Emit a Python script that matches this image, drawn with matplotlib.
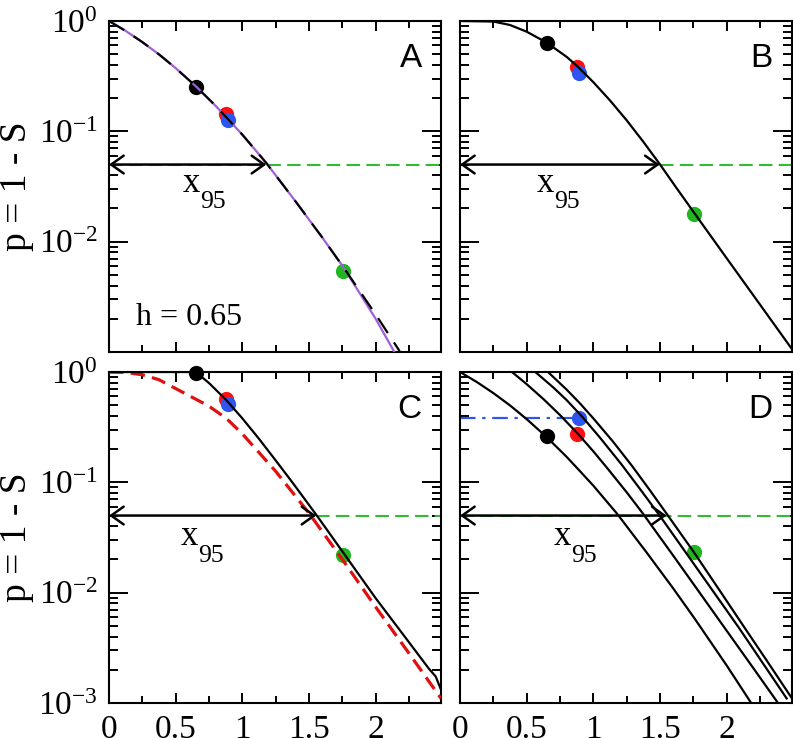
import numpy as np
import matplotlib
matplotlib.use("Agg")
import matplotlib.pyplot as plt
import matplotlib.transforms as mtransforms
from matplotlib.ticker import LogLocator, NullFormatter, MultipleLocator

# ---------------- data ----------------
# Panel A: black dashed curve and purple curve
xA = [0, 0.125, 0.25, 0.375, 0.5, 0.65, 0.8, 0.88, 1.0, 1.18, 1.4, 1.6, 1.76, 2.0, 2.18]
pA = [1.0, 0.813, 0.644, 0.498, 0.374, 0.257, 0.170, 0.134, 0.0933, 0.0516,
      0.0231, 0.01089, 0.00582, 0.00219, 0.001016]
xA_purple = [0, 0.125, 0.25, 0.375, 0.5, 0.65, 0.8, 0.88, 1.0, 1.18, 1.4, 1.6, 1.76, 2.0, 2.14]
pA_purple = [1.0, 0.813, 0.644, 0.498, 0.374, 0.257, 0.170, 0.134, 0.0933, 0.0516,
             0.0231, 0.01089, 0.00582, 0.0020, 0.001]

# Panel B
xB = [0, 0.25, 0.375, 0.5, 0.65, 0.8, 0.88, 1.0, 1.125, 1.25, 1.375, 1.5, 1.625,
      1.76, 2.0, 2.25, 2.5]
pB = [1.0, 0.989, 0.920, 0.800, 0.637, 0.473, 0.389, 0.279, 0.1905, 0.1259, 0.0804,
      0.0501, 0.0305, 0.0180, 0.00708, 0.00269, 0.00102]

# Panel C: black solid and red dashed
xC = [0, 0.65, 0.75, 0.88, 1.0, 1.125, 1.25, 1.375, 1.5, 1.555, 1.77, 2.0, 2.25,
      2.4, 2.45, 2.49]
pC = [1.0, 1.0, 0.794, 0.556, 0.380, 0.248, 0.158, 0.100, 0.0624, 0.0507, 0.0219,
      0.00891, 0.00355, 0.00204, 0.00174, 0.00132]
xC_red = [0, 0.125, 0.25, 0.375, 0.5, 0.625, 0.75, 0.88, 1.0, 1.25, 1.5, 1.75, 2.0, 2.25, 2.49]
pC_red = [1.0, 0.991, 0.944, 0.851, 0.708, 0.589, 0.490, 0.380, 0.275, 0.126,
          0.0525, 0.0200, 0.00741, 0.00282, 0.00110]

# Panel D: four curves (first equals panel A curve)
xD2 = [0.39, 0.5, 0.63, 0.75, 0.88, 1.0, 1.1, 1.25, 1.37, 1.6, 1.8, 2.0, 2.2, 2.39]
pD2 = [1.0, 0.776, 0.562, 0.407, 0.279, 0.191, 0.1365, 0.0813, 0.0525, 0.0216,
       0.00989, 0.00452, 0.00207, 0.00098]
xD3 = [0.565, 0.7, 0.8, 0.92, 1.05, 1.21, 1.35, 1.5, 1.725, 1.9, 2.09, 2.3, 2.45]
pD3 = [1.0, 0.724, 0.556, 0.389, 0.254, 0.146, 0.0871, 0.0495, 0.0204, 0.01023,
       0.00484, 0.00204, 0.0011]
xD4 = [0.66, 0.8, 0.9, 1.0, 1.15, 1.29, 1.42, 1.55, 1.755, 1.95, 2.13, 2.3, 2.49]
pD4 = [1.0, 0.692, 0.519, 0.380, 0.232, 0.141, 0.0861, 0.0519, 0.0232, 0.01035,
       0.0049, 0.00243, 0.0011]

# markers: black, red, blue, green
mark_x = [0.652, 0.878, 0.891, 1.757]
mark_colors = ["#000000", "#ff1010", "#2f55f0", "#22b422"]
mark_p = {
    "A": [0.254, 0.143, 0.127, 0.00546],
    "B": [0.637, 0.380, 0.340, 0.0178],
    "C": [0.970, 0.567, 0.510, 0.0220],
    "D": [0.261, 0.275, 0.383, 0.0236],
}

threshold = 0.05
x95 = {"A": 1.18, "B": 1.498, "C": 1.555, "D": 1.55}
x95_label_x = {"A": 0.552, "B": 0.577, "C": 0.54, "D": 0.703}
x95_label_p = {"A": 0.0283, "B": 0.0283, "C": 0.0271, "D": 0.0271}

yticks = [1, 0.1, 0.01, 0.001]
ylabels_top = [r"$\mathregular{10^{0}}$", r"$\mathregular{10^{-1}}$", r"$\mathregular{10^{-2}}$", ""]
ylabels_bottom = [r"$\mathregular{10^{0}}$", r"$\mathregular{10^{-1}}$", r"$\mathregular{10^{-2}}$",
                  r"$\mathregular{10^{-3}}$"]
xticks = [0, 0.5, 1, 1.5, 2]
xlabels = ["0", "0.5", "1", "1.5", "2"]

# ---------------- figure ----------------
SERIF = "Liberation Serif"
SANS = "Liberation Sans"
plt.rcParams["mathtext.fontset"] = "custom"
plt.rcParams["mathtext.rm"] = SERIF
plt.rcParams["mathtext.it"] = SERIF + ":italic"

W, H = 793, 738
fig = plt.figure(figsize=(W / 100, H / 100), dpi=100)

def rect(l, t, r, b):
    return [l / W, 1 - b / H, (r - l) / W, (b - t) / H]

axes = {
    "A": fig.add_axes(rect(109, 21, 441, 352)),
    "B": fig.add_axes(rect(460, 21, 792, 352)),
    "C": fig.add_axes(rect(109, 372, 441, 703)),
    "D": fig.add_axes(rect(460, 372, 792, 703)),
}

green_dash = "#33bb33"

for key, ax in axes.items():
    ax.set_yscale("log")
    ax.set_xlim(0, 2.49)
    ax.set_ylim(1e-3, 1)
    for s in ax.spines.values():
        s.set_linewidth(1.5)
    ax.set_xticks(xticks)
    ax.xaxis.set_minor_locator(MultipleLocator(0.25))
    ax.yaxis.set_minor_locator(LogLocator(base=10, subs=range(2, 10), numticks=20))
    ax.yaxis.set_minor_formatter(NullFormatter())
    if key in ("C", "D"):
        ax.set_xticklabels(xlabels, fontfamily=SERIF, fontsize=24)
    else:
        ax.set_xticklabels([""] * len(xticks))
    ax.set_yticks(yticks)
    if key == "A":
        ax.set_yticklabels(ylabels_top, fontfamily=SERIF, fontsize=24)
    elif key == "C":
        ax.set_yticklabels(ylabels_bottom, fontfamily=SERIF, fontsize=24)
    else:
        ax.set_yticklabels([""] * len(yticks))
    ax.tick_params(axis="both", which="both", direction="in", top=True, right=True, width=1.4)
    ax.tick_params(axis="x", which="major", length=7.5, pad=8)
    ax.tick_params(axis="x", which="minor", length=5)
    ax.tick_params(axis="y", which="major", length=13.5, pad=8)
    ax.tick_params(axis="y", which="minor", length=6.5)

    # threshold line
    x_start = 0 if key in ("A", "D") else x95[key]
    ax.plot([x_start, 2.49], [threshold, threshold], color=green_dash, lw=1.5,
            dashes=(6.5, 3), zorder=2)

    # markers
    for mx, mp, mc in zip(mark_x, mark_p[key], mark_colors):
        ax.plot([mx], [mp], "o", color=mc, ms=11, mec="none", zorder=3, clip_on=False)

    # arrow
    ax.annotate("", xy=(0, threshold), xytext=(x95[key], threshold),
                arrowprops=dict(arrowstyle="<->,head_length=0.45,head_width=0.32",
                                lw=1.8, color="black", shrinkA=0, shrinkB=0,
                                mutation_scale=20), zorder=5)
    ax.text(x95_label_x[key], x95_label_p[key], "x",
            fontfamily=SERIF, fontsize=25, ha="left", va="baseline", zorder=6)
    sub_tr = mtransforms.offset_copy(ax.transData, fig=fig, x=12.5, y=-12, units="points")
    ax.text(x95_label_x[key], x95_label_p[key], "95", transform=sub_tr,
            fontfamily=SERIF, fontsize=18.5, ha="left", va="baseline", zorder=6)

    ax.text(0.942, 0.861, key, transform=ax.transAxes, fontfamily=SANS,
            fontsize=24, ha="right", va="baseline")

# curves
axA = axes["A"]
axA.plot(xA_purple, pA_purple, color="#a060d8", lw=1.6, zorder=4)
axA.plot(xA, pA, color="black", lw=1.6, dashes=(8, 5), zorder=4)
axA.text(0.2, 0.00175, "h = 0.65", fontfamily=SERIF, fontsize=23, ha="left", va="baseline")

axes["B"].plot(xB, pB, color="black", lw=1.6, zorder=4)

axes["C"].plot(xC_red, pC_red, color="#e01010", lw=2.3, dashes=(4.5, 2.3), zorder=4)
axes["C"].plot(xC, pC, color="black", lw=1.6, zorder=4)

axD = axes["D"]
for xs, ps in ((xA, pA), (xD2, pD2), (xD3, pD3), (xD4, pD4)):
    axD.plot(xs, ps, color="black", lw=1.6, zorder=4)
axD.plot([0, mark_x[2]], [mark_p["D"][2], mark_p["D"][2]], color="#2f55f0", lw=1.6,
         dashes=(7, 3, 1.5, 3), zorder=2)

# y labels
for yc in ((21 + 352) / 2, (372 + 703) / 2):
    fig.text(17 / W, 1 - yc / H, "p = 1 - S", rotation=90, fontfamily=SERIF,
             fontsize=27, ha="center", va="center")

fig.savefig("out.png", dpi=100)
